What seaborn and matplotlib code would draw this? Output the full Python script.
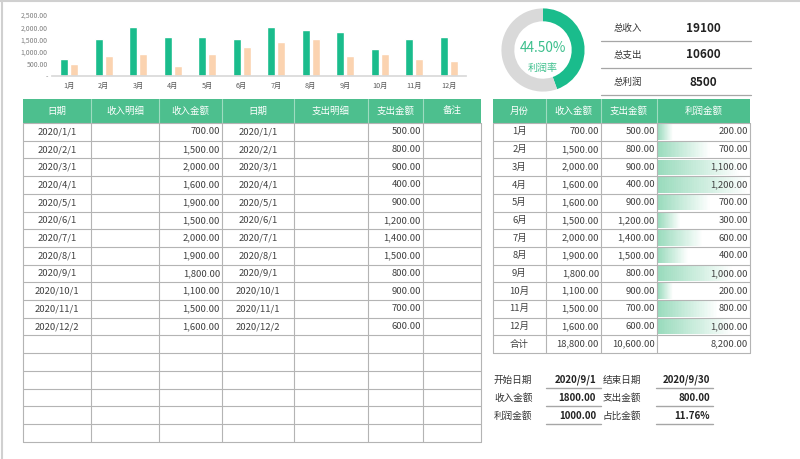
import numpy as np
import pandas as pd
import matplotlib
matplotlib.use("Agg")
import matplotlib.pyplot as plt
import seaborn as sns
from matplotlib.colors import LinearSegmentedColormap

# monthly summary (right table + bar chart)
months = ["1月", "2月", "3月", "4月", "5月", "6月", "7月", "8月", "9月", "10月", "11月", "12月"]
income = [700, 1500, 2000, 1600, 1600, 1500, 2000, 1900, 1800, 1100, 1500, 1600]
expense = [500, 800, 900, 400, 900, 1200, 1400, 1500, 800, 900, 700, 600]
profit = [200, 700, 1100, 1200, 700, 300, 600, 400, 1000, 200, 800, 1000]

# detail ledger (left table)
in_dates = ["2020/1/1", "2020/2/1", "2020/3/1", "2020/4/1", "2020/5/1", "2020/6/1",
            "2020/7/1", "2020/8/1", "2020/9/1", "2020/10/1", "2020/11/1", "2020/12/2"]
in_amounts = [700, 1500, 2000, 1600, 1900, 1500, 2000, 1900, 1800, 1100, 1500, 1600]
out_dates = list(in_dates)
out_amounts = [500, 800, 900, 400, 900, 1200, 1400, 1500, 800, 900, 700, 600]

left_headers = ["日期", "收入明细", "收入金额", "日期", "支出明细", "支出金额", "备注"]
right_headers = ["月份", "收入金额", "支出金额", "利润金额"]

kpi_labels = ["总收入", "总支出", "总利润"]
kpi_values = [19100, 10600, 8500]
profit_rate = 44.50

q_left_labels = ["开始日期", "收入金额", "利润金额"]
q_left_values = ["2020/9/1", "1800.00", "1000.00"]
q_right_labels = ["结束日期", "支出金额", "占比金额"]
q_right_values = ["2020/9/30", "800.00", "11.76%"]

GREEN = "#1abc8c"
PEACH = "#fbd3b0"
HEAD = "#4dbf8e"
GRID = "#b4b4b4"
TXT = "#404040"

sns.set_theme(style="white")
plt.rcParams["font.family"] = ["Noto Sans CJK SC", "DejaVu Sans"]

fig = plt.figure(figsize=(8, 4.59), dpi=100)
bg = fig.add_axes([0, 0, 1, 1], zorder=0)
bg.set_xlim(0, 800)
bg.set_ylim(459, 0)
bg.axis("off")


def fmt(v):
    return f"{v:,.2f}"


# sheet frame
bg.plot([1.5, 1.5], [0, 459], color="#d0d0d0", lw=1.5)
bg.plot([0, 800], [1, 1], color="#d0d0d0", lw=1.5)

# ---- bar chart ----
ax = fig.add_axes([52 / 800, 1 - 76 / 459, 414 / 800, 61 / 459], zorder=2)
df = pd.DataFrame({"月份": months * 2, "金额": income + expense,
                   "类型": ["收入"] * 12 + ["支出"] * 12})
sns.barplot(data=df, x="月份", y="金额", hue="类型", palette=[GREEN, PEACH],
            width=0.58, gap=0.2, saturation=1, legend=False, ax=ax)
ax.set_ylim(0, 2500)
ax.set_xlim(-0.5, 11.5)
ax.set_yticks([0, 500, 1000, 1500, 2000, 2500])
ax.set_yticklabels(["-", "500.00", "1,000.00", "1,500.00", "2,000.00", "2,500.00"])
ax.set_xlabel("")
ax.set_ylabel("")
sns.despine(ax=ax, left=True)
ax.spines["bottom"].set_color("#d9d9d9")
ax.tick_params(axis="y", length=0, labelsize=5, colors="#7f7f7f", pad=3)
ax.tick_params(axis="x", length=0, labelsize=5.2, colors="#595959", pad=4)
ax.set_facecolor("none")

# ---- donut ----
dax = fig.add_axes([501 / 800, 1 - 92 / 459, 84 / 800, 84 / 459], zorder=2)
dax.pie([profit_rate, 100 - profit_rate], colors=[GREEN, "#d9d9d9"], startangle=90,
        counterclock=False, wedgeprops=dict(width=0.31, linewidth=0))
dax.set_xlim(-1.01, 1.01)
dax.set_ylim(-1.01, 1.01)
dax.text(0, 0.06, f"{profit_rate:.2f}%", ha="center", va="center", fontsize=9.8, color="#3cbf8c")
dax.text(0, -0.43, "利润率", ha="center", va="center", fontsize=7.2, color="#3cbf8c")

# ---- KPI block ----
for i, (lab, val) in enumerate(zip(kpi_labels, kpi_values)):
    y = 28 + i * 27
    bg.text(614, y, lab, ha="left", va="center", fontsize=6.8, color="#333333")
    bg.text(703, y, str(val), ha="center", va="center", fontsize=8.5, fontweight="bold", color="#222222")
    bg.plot([601, 751], [y + 12.5, y + 12.5], color="#a6a6a6", lw=0.9)

# ---- left ledger table ----
lx = [23, 91, 159, 222, 294, 368, 423, 481]
top, head_bot, rh = 99, 123, 17.7
n_left = 18
bg.add_patch(plt.Rectangle((lx[0], top), lx[-1] - lx[0], head_bot - top, color=HEAD, lw=0))
for j, h in enumerate(left_headers):
    bg.text((lx[j] + lx[j + 1]) / 2, (top + head_bot) / 2, h, ha="center", va="center",
            fontsize=6.8, color="white")
for x in lx[1:-1]:
    bg.plot([x, x], [top, head_bot], color="#9edcc1", lw=0.8)
bottom = head_bot + n_left * rh
for i in range(n_left + 1):
    y = head_bot + i * rh
    bg.plot([lx[0], lx[-1]], [y, y], color=GRID, lw=0.8)
for x in lx:
    bg.plot([x, x], [head_bot, bottom], color=GRID, lw=0.8)
for i in range(len(in_dates)):
    yc = head_bot + (i + 0.5) * rh
    bg.text((lx[0] + lx[1]) / 2, yc, in_dates[i], ha="center", va="center", fontsize=6.8, color=TXT)
    bg.text(lx[3] - 2, yc, fmt(in_amounts[i]), ha="right", va="center", fontsize=6.8, color=TXT)
    bg.text((lx[3] + lx[4]) / 2, yc, out_dates[i], ha="center", va="center", fontsize=6.8, color=TXT)
    bg.text(lx[6] - 2, yc, fmt(out_amounts[i]), ha="right", va="center", fontsize=6.8, color=TXT)

# ---- right monthly table ----
rx = [493, 546, 601, 657, 750]
n_right = len(months) + 1
bg.add_patch(plt.Rectangle((rx[0], top), rx[-1] - rx[0], head_bot - top, color=HEAD, lw=0))
for j, h in enumerate(right_headers):
    bg.text((rx[j] + rx[j + 1]) / 2, (top + head_bot) / 2, h, ha="center", va="center",
            fontsize=6.8, color="white")
for x in rx[1:-1]:
    bg.plot([x, x], [top, head_bot], color="#9edcc1", lw=0.8)

# data bars: light green at the left edge fading to white at the bar end
bar_cmap = LinearSegmentedColormap.from_list("databar", ["#9adbbd", "#ffffff"])
pmax = max(profit)
nseg = 40
for i, p in enumerate(profit):
    y0 = head_bot + i * rh + 1.2
    x0 = rx[3] + 0.8
    length = p / pmax * (rx[4] - rx[3] - 1.6)
    seg = length / nseg
    for k in range(nseg):
        bg.add_patch(plt.Rectangle((x0 + k * seg, y0), seg + 0.3, rh - 2.4,
                                   color=bar_cmap(k / (nseg - 1)), lw=0, zorder=1))

rbottom = head_bot + n_right * rh
for i in range(n_right + 1):
    y = head_bot + i * rh
    bg.plot([rx[0], rx[-1]], [y, y], color=GRID, lw=0.8, zorder=2)
for x in rx:
    bg.plot([x, x], [head_bot, rbottom], color=GRID, lw=0.8, zorder=2)
rows = [(m, income[i], expense[i], profit[i]) for i, m in enumerate(months)]
rows.append(("合计", sum(income), sum(expense), sum(profit)))
for i, (m, a, b, c) in enumerate(rows):
    yc = head_bot + (i + 0.5) * rh
    bg.text((rx[0] + rx[1]) / 2, yc, m, ha="center", va="center", fontsize=6.8, color=TXT, zorder=3)
    bg.text(rx[2] - 2, yc, fmt(a), ha="right", va="center", fontsize=6.8, color=TXT, zorder=3)
    bg.text(rx[3] - 2, yc, fmt(b), ha="right", va="center", fontsize=6.8, color=TXT, zorder=3)
    bg.text(rx[4] - 2, yc, fmt(c), ha="right", va="center", fontsize=6.8, color=TXT, zorder=3)

# ---- query block ----
for i in range(3):
    y = 380 + i * 18
    bg.text(494, y, q_left_labels[i], ha="left", va="center", fontsize=6.9, color="#333333")
    bg.text(596, y, q_left_values[i], ha="right", va="center", fontsize=7, fontweight="bold", color="#222222")
    bg.plot([546, 601], [y + 7.5, y + 7.5], color="#a6a6a6", lw=1)
    bg.text(603, y, q_right_labels[i], ha="left", va="center", fontsize=6.9, color="#333333")
    bg.text(710, y, q_right_values[i], ha="right", va="center", fontsize=7, fontweight="bold", color="#222222")
    bg.plot([656, 713], [y + 7.5, y + 7.5], color="#a6a6a6", lw=1)

fig.savefig("out.png", dpi=100)
